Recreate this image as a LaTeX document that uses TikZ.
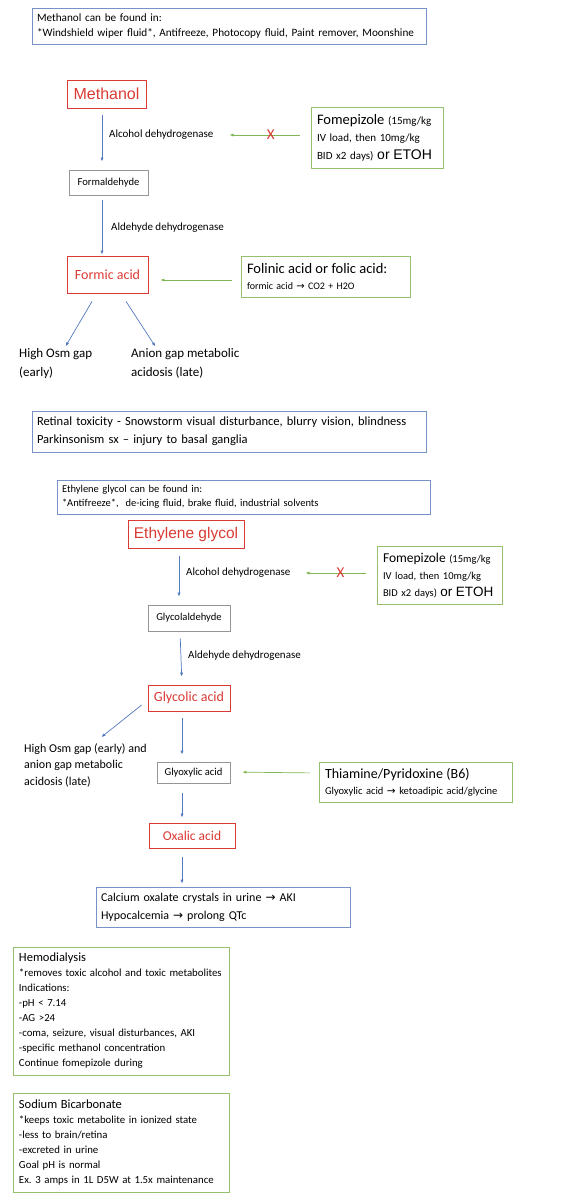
\documentclass[tikz,border=0pt]{standalone}
\usepackage{fontspec}
\setmainfont{Carlito}
\newfontfamily\arialfont{Liberation Sans}
\newfontfamily\symfont{DejaVu Sans}
\usetikzlibrary{arrows.meta}
\definecolor{boxblue}{RGB}{118,146,200}
\definecolor{flowblue}{RGB}{84,122,190}
\definecolor{toxred}{RGB}{218,58,52}
\definecolor{rxgreen}{RGB}{150,192,112}
\definecolor{rxarrow}{RGB}{128,182,84}
\definecolor{stepgrey}{RGB}{150,150,150}
\newcommand{\fsz}[2]{\fontsize{#1}{#2}\selectfont}
\newcommand{\ra}{{\symfont →}}
\frenchspacing

\begin{document}
\begin{tikzpicture}[x=1pt, y=-1pt, every node/.style={inner sep=0pt}]
  \tikzset{
      infobox/.style={draw=boxblue, line width=0.8pt, align=left, inner xsep=5pt},
      rxbox/.style={draw=rxgreen, line width=0.9pt, align=left, inner xsep=6pt},
      toxbox/.style={draw=toxred, text=toxred, line width=0.8pt},
      stepbox/.style={draw=stepgrey, line width=0.8pt, font=\fsz{10.6}{12}},
      enzyme/.style={anchor=west, font=\fsz{11}{13}},
      effect/.style={anchor=west, align=left},
      flow/.style={draw=flowblue, line width=0.7pt, -{Latex[length=4pt,width=3.2pt]}},
      antidote/.style={draw=rxarrow, line width=0.7pt, -{Latex[length=4pt,width=3.2pt]}},
      xmark/.style={text=toxred, font=\fsz{15}{15}}
  }
  \useasboundingbox (0,0) rectangle (580,1200);

  % methanol
  \node[infobox, minimum width=394, minimum height=36, text width=384, font=\fsz{11.2}{14.5}] (srcM) at (229,26)
      {Methanol can be found in:\\{}*Windshield wiper fluid*, Antifreeze, Photocopy fluid, Paint remover, Moonshine};
  \node[toxbox, minimum width=79, minimum height=28, font=\arialfont\fsz{16}{16}] (methanol) at (106.5,94) {Methanol};
  \node[enzyme] (adhM) at (109,135) {Alcohol dehydrogenase};
  \node[stepbox, minimum width=79, minimum height=25] (formald) at (108.5,182.5) {Formaldehyde};
  \node[enzyme] (aldM) at (111,228) {Aldehyde dehydrogenase};
  \node[toxbox, minimum width=81, minimum height=37, font=\fsz{14}{14}] (formic) at (107.5,274.5) {Formic acid};
  \node[rxbox, minimum width=132, minimum height=61, text width=120, font=\fsz{11}{17.5}] (fomeM) at (377,137.5)
      {{\fsz{14.5}{17.5}Fomepizole} (15mg/kg\\IV load, then 10mg/kg\\BID x2 days) {\arialfont\fsz{14}{17.5}or ETOH}};
  \node[rxbox, minimum width=169, minimum height=41, text width=157, font=\fsz{10}{16}] (folinic) at (325.5,276.5)
      {{\fsz{14.5}{16}Folinic acid or folic acid:}\\formic acid \ra{} CO2 + H2O};
  \node[effect, font=\fsz{13}{19}] (osm) at (19,363.5) {High Osm gap\\(early)};
  \node[effect, font=\fsz{13}{19}] (anion) at (131,363.5) {Anion gap metabolic\\acidosis (late)};

  \draw[flow, shorten <=7pt, shorten >=8pt] ([xshift=-4.5]methanol.south) -- ([xshift=-6.5]formald.north);
  \draw[flow, shorten <=5pt, shorten >=1pt] ([xshift=-6.5]formald.south) -- ([xshift=-5.5]formic.north);
  \draw[antidote, shorten <=11pt, shorten >=16pt] (fomeM.west |- adhM.east) -- (adhM.east)
      node[xmark, pos=0.41] (noM) {X};
  \draw[antidote, shorten <=9pt, shorten >=12pt] ([yshift=-3.5]folinic.west) -- ([yshift=-5.5]formic.east);
  \draw[flow] ([xshift=-15.5,yshift=-8]formic.south) -- ([xshift=10,yshift=2]osm.north);
  \draw[flow] ([xshift=18.5,yshift=-8]formic.south) -- ([xshift=-30,yshift=2]anion.north);

  \node[infobox, minimum width=394, minimum height=41, text width=384, font=\fsz{12.5}{18}] (eyes) at (229,431.5)
      {Retinal toxicity - Snowstorm visual disturbance, blurry vision, blindness\\Parkinsonism sx – injury to basal ganglia};

  % ethylene glycol
  \node[infobox, minimum width=373, minimum height=34, text width=363, font=\fsz{10.5}{14}] (srcE) at (243.5,497)
      {Ethylene glycol can be found in:\\{}*Antifreeze*,\ \ de-icing fluid, brake fluid, industrial solvents};
  \node[toxbox, minimum width=116, minimum height=28, font=\arialfont\fsz{15.5}{15.5}] (ethylene) at (186,534.5) {Ethylene glycol};
  \node[enzyme] (adhE) at (186,573) {Alcohol dehydrogenase};
  \node[stepbox, minimum width=82, minimum height=26] (glycolald) at (189,618) {Glycolaldehyde};
  \node[enzyme] (aldE) at (188,656) {Aldehyde dehydrogenase};
  \node[toxbox, minimum width=82, minimum height=26, font=\fsz{14}{14}] (glycolic) at (189,698) {Glycolic acid};
  \node[stepbox, minimum width=73, minimum height=21] (glyoxylic) at (193.5,772.5) {Glyoxylic acid};
  \node[toxbox, minimum width=86, minimum height=25, font=\fsz{13.5}{13.5}] (oxalic) at (192,835.5) {Oxalic acid};
  \node[rxbox, minimum width=125, minimum height=58, text width=113, font=\fsz{10.5}{17}] (fomeE) at (439.5,575.5)
      {{\fsz{13.5}{17}Fomepizole} (15mg/kg\\IV load, then 10mg/kg\\BID x2 days) {\arialfont\fsz{13.5}{17}or ETOH}};
  \node[rxbox, minimum width=193, minimum height=40, text width=181, font=\fsz{10.5}{16}] (thiamine) at (415.5,782)
      {{\fsz{14}{16}Thiamine/Pyridoxine (B6)}\\Glyoxylic acid \ra{} ketoadipic acid/glycine};
  \node[effect, font=\fsz{12}{16.5}] (osm2) at (24,765)
      {High Osm gap (early) and\\anion gap metabolic\\acidosis (late)};
  \node[infobox, minimum width=254, minimum height=40, text width=244, font=\fsz{12}{18}] (calcium) at (223,907)
      {Calcium oxalate crystals in urine \ra{} AKI\\Hypocalcemia \ra{} prolong QTc};

  \draw[flow, shorten <=7pt, shorten >=8pt] ([xshift=-7]ethylene.south) -- ([xshift=-10]glycolald.north);
  \draw[flow, shorten <=7pt, shorten >=8pt] ([xshift=-9]glycolald.south) -- ([xshift=-7]glycolic.north);
  \draw[antidote, shorten <=11pt, shorten >=15pt] (fomeE.west |- adhE.east) -- (adhE.east)
      node[xmark, pos=0.42] (noE) {X};
  \draw[flow] ([xshift=-6,yshift=-7]glycolic.west) -- ([xshift=16,yshift=6]osm2.north);
  \draw[flow, shorten <=7pt, shorten >=7pt] ([xshift=-7]glycolic.south) -- ([xshift=-11.5]glyoxylic.north);
  \draw[antidote, shorten <=9pt, shorten >=12pt] ([yshift=9]thiamine.west) -- ([yshift=0.5]glyoxylic.east);
  \draw[flow, shorten <=10pt, shorten >=5pt] ([xshift=-11.5]glyoxylic.south) -- ([xshift=-10]oxalic.north);
  \draw[flow, shorten <=9pt, shorten >=3pt] ([xshift=-10]oxalic.south) -- ([xshift=-41]calcium.north);

  % treatment
  \node[rxbox, minimum width=216, minimum height=128, text width=204, font=\fsz{10.8}{15}] (hemo) at (121,1011)
      {{\fsz{12.5}{15}Hemodialysis}\\{}*removes toxic alcohol and toxic metabolites\\Indications:\\-pH < 7.14\\-AG >24\\-coma, seizure, visual disturbances, AKI\\-specific methanol concentration\\Continue fomepizole during};
  \node[rxbox, minimum width=216, minimum height=99, text width=204, font=\fsz{10.8}{15}] (bicarb) at (121,1142.5)
      {{\fsz{12.5}{17}Sodium Bicarbonate}\\{}*keeps toxic metabolite in ionized state\\-less to brain/retina\\-excreted in urine\\Goal pH is normal\\Ex. 3 amps in 1L D5W at 1.5x maintenance};
\end{tikzpicture}
\end{document}
